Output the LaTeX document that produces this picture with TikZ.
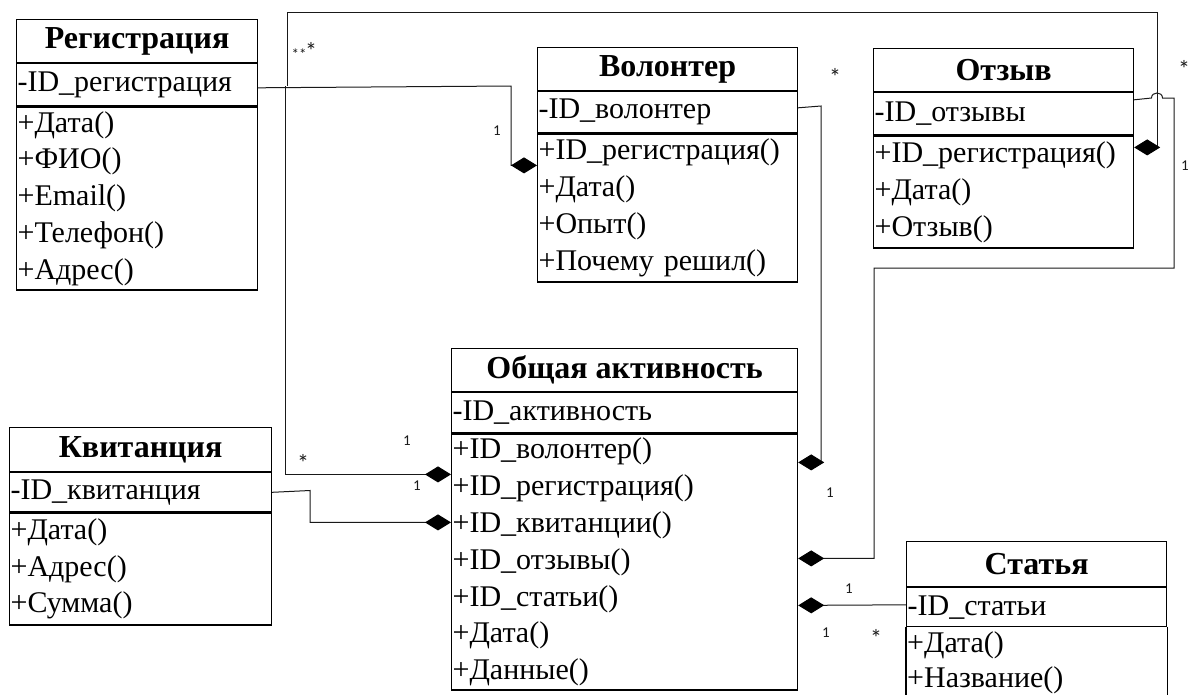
\documentclass[tikz,border=0pt]{standalone}
\usepackage{fontspec}
\setmainfont{Liberation Serif}
\newfontfamily\labfont{Carlito}
\usetikzlibrary{arrows.meta}
\tikzset{
  boxline/.style={draw=black, line width=1.2pt},
  hdr/.style={boxline, anchor=north west, inner sep=0pt, font=\fontsize{32}{36}\selectfont\bfseries},
  rowbox/.style={boxline, anchor=north west, inner xsep=1pt, inner ysep=0pt, align=left, font=\fontsize{30}{36.8}\selectfont},
  rowtext/.style={anchor=base west, inner xsep=1pt, inner ysep=0pt, font=\fontsize{30}{36.8}\selectfont},
  conn/.style={draw=black!90, line width=1pt},
  comp/.style={conn, -{Diamond[length=26pt,width=16pt,color=black]}},
  mult/.style={font=\labfont\fontsize{15}{15}\selectfont, inner sep=0pt, text=black!90},
  star/.style={font=\labfont\fontsize{24}{24}\selectfont, inner sep=0pt, text=black!90},
}
\begin{document}
\begin{tikzpicture}[x=1pt,y=-1pt]
\useasboundingbox (0,0) rectangle (1190,694);
\clip (0,0) rectangle (1190,694);

% ---------- Регистрация
\node[hdr, minimum width=241pt, minimum height=43pt] (regT) at (16,19) {Регистрация};
\node[rowbox, text width=239pt, minimum height=42pt] (regA) at (regT.south west) {-ID\_регистрация};
\node[rowbox, text width=239pt, minimum height=183pt] (regM) at (regA.south west) {+Дата()\\+ФИО()\\+Email()\\+Телефон()\\+Адрес()};

% ---------- Волонтер
\node[hdr, minimum width=260pt, minimum height=43pt] (volT) at (537,47) {Волонтер};
\node[rowbox, text width=258pt, minimum height=41pt] (volA) at (volT.south west) {-ID\_волонтер};
\node[rowbox, text width=258pt, minimum height=148pt] (volM) at (volA.south west) {+ID\_регистрация()\\+Дата()\\+Опыт()\\+Почему решил()};

% ---------- Отзыв
\node[hdr, minimum width=260pt, minimum height=43pt] (otzT) at (873,48) {Отзыв};
\node[rowbox, text width=258pt, minimum height=42pt] (otzA) at (otzT.south west) {-ID\_отзывы};
\node[rowbox, text width=258pt, minimum height=112pt] (otzM) at (otzA.south west) {+ID\_регистрация()\\+Дата()\\+Отзыв()};

% ---------- Общая активность
\node[hdr, minimum width=346pt, minimum height=43pt] (oaT) at (451,348) {Общая активность};
\node[rowbox, text width=344pt, minimum height=40pt] (oaA) at (oaT.south west) {-ID\_активность};
\node[rowbox, text width=344pt, minimum height=256pt] (oaM) at (oaA.south west) {+ID\_волонтер()\\+ID\_регистрация()\\+ID\_квитанции()\\+ID\_отзывы()\\+ID\_статьи()\\+Дата()\\+Данные()};

% ---------- Квитанция
\node[hdr, minimum width=262pt, minimum height=44pt] (kvT) at (9,427) {Квитанция};
\node[rowbox, text width=260pt, minimum height=39pt] (kvA) at (kvT.south west) {-ID\_квитанция};
\node[rowbox, text width=260pt, minimum height=112pt] (kvM) at (kvA.south west) {+Дата()\\+Адрес()\\+Сумма()};

% ---------- Статья (runs past the lower edge)
\node[hdr, minimum width=260pt, minimum height=45pt] (stT) at (906,541) {Статья};
\node[rowbox, text width=258pt, minimum height=39pt] (stA) at (stT.south west) {-ID\_статьи};
\node[rowtext] (stM1) at (906,652) {+Дата()};
\node[rowtext] (stM2) at (906,687) {+Название()};
\draw[boxline] (stA.south west) -- ++(0,80);
\draw[boxline] (stA.south east) -- ++(0,80);

% ---------- junctions
\coordinate (j1) at (287,86);
\coordinate (j2) at (285,86);
\coordinate (topR) at (1157,12);

% ---------- connectors
\draw[comp] ([yshift=-3pt]regA.east) -- (511,86) |- ([yshift=-32pt]volM.north west);
\draw[comp] (j1) |- (topR) |- ([yshift=-12pt]otzM.north east);
\draw[comp] (j2) |- ([yshift=-41pt]oaM.north west);
\draw[comp] ([yshift=4.5pt]volA.east) -- (821,106) |- ([yshift=-29pt]oaM.north east);
\draw[comp] ([yshift=14pt]otzA.east) -- (1151.5,98) .. controls (1151.5,91.3) and (1162.5,91.3) .. (1162.5,98)
   -- (1174,98) -- (1174,268) -- (874,268) |- ([yshift=-125pt]oaM.north east);
\draw[comp] (kvA.east) -- (310,490.5) |- ([yshift=-89pt]oaM.north west);
\draw[comp] ([yshift=2.5pt]stA.west) -- ([yshift=-172pt]oaM.north east);

% ---------- multiplicities
\node[mult] (m1) at (497,131) {1};
\node[mult] (m2) at (299,54) {**};
\node[star] (m3) at (311,51) {*};
\node[star] (m4) at (835,77) {*};
\node[star] (m5) at (1184,69) {*};
\node[mult] (m6) at (1185,166) {1};
\node[star] (m7) at (303,463) {*};
\node[mult] (m8) at (407,441) {1};
\node[mult] (m9) at (417,486) {1};
\node[mult] (m10) at (830,493) {1};
\node[mult] (m11) at (849,589) {1};
\node[mult] (m12) at (826,633) {1};
\node[star] (m13) at (876,638) {*};
\end{tikzpicture}
\end{document}
